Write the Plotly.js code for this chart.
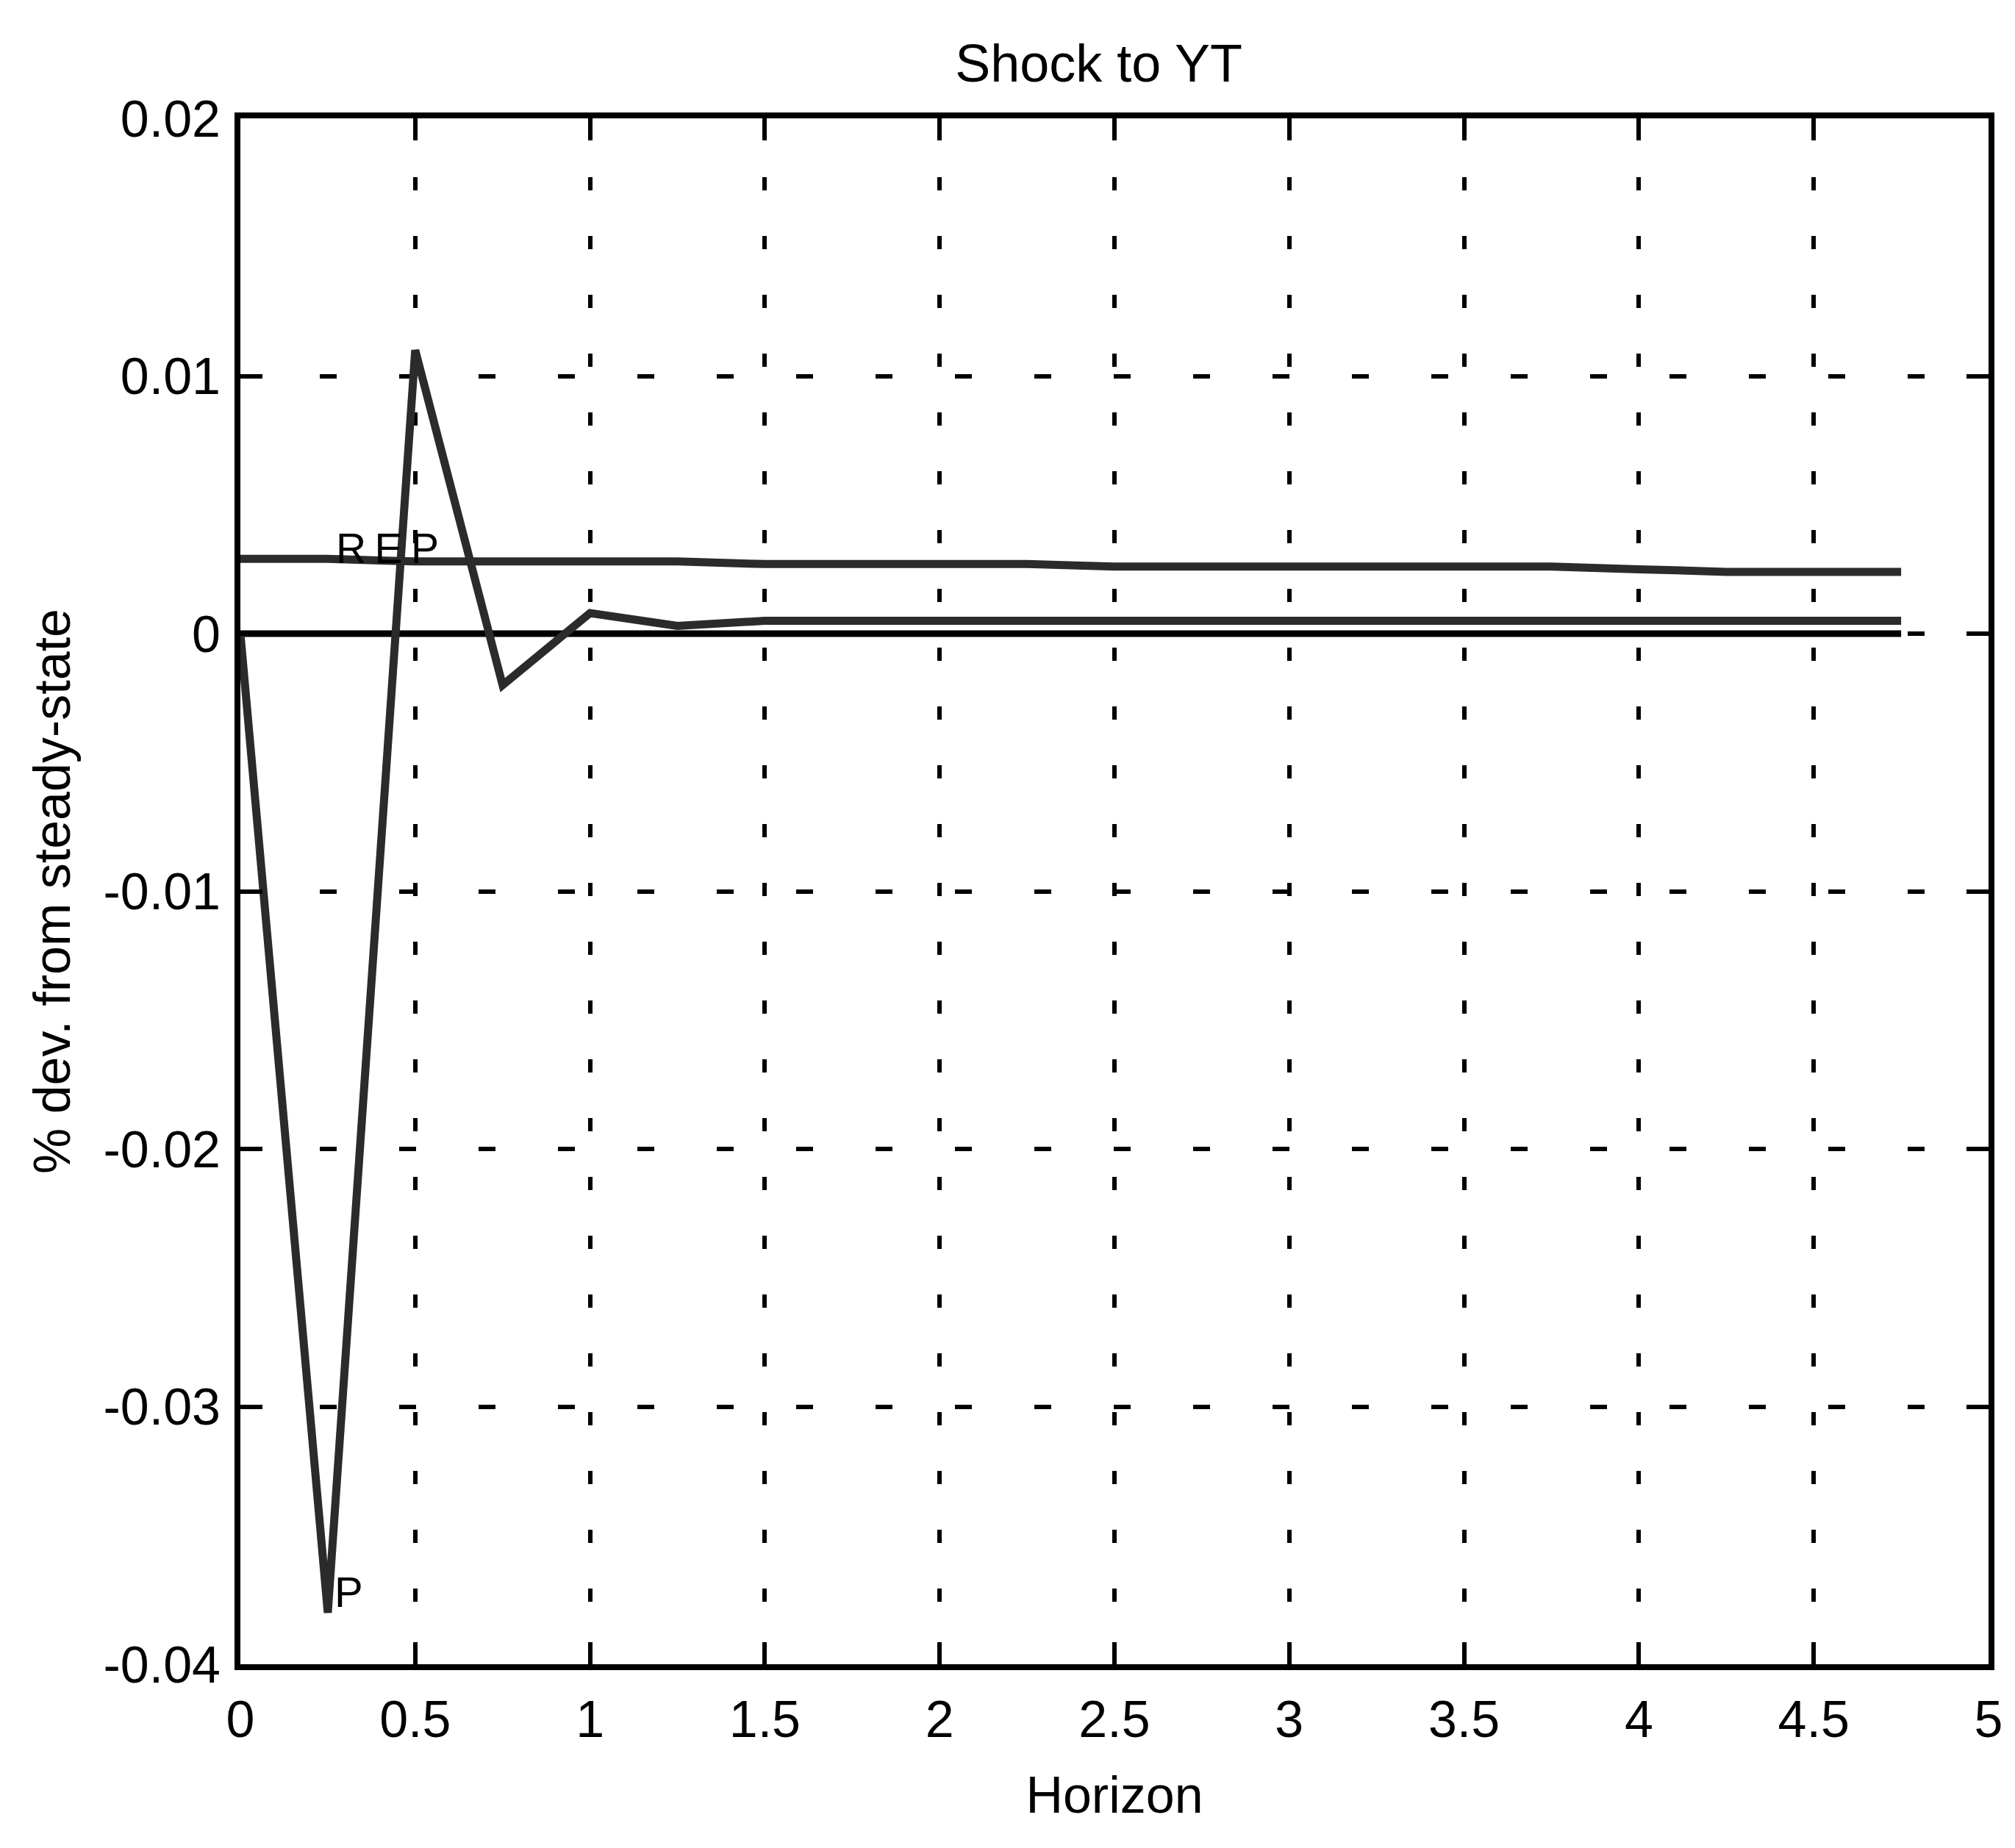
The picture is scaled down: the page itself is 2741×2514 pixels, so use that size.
<!DOCTYPE html>
<html>
<head>
<meta charset="utf-8">
<script src="https://cdn.plot.ly/plotly-3.0.1.min.js"></script>
<style>html,body{margin:0;padding:0;background:#fff;}#chart{width:2741px;height:2514px;}</style>
</head>
<body>
<div id="chart"></div>
<script>
// Horizon (years, quarterly steps)
const horizon = [0, 0.25, 0.5, 0.75, 1, 1.25, 1.5, 1.75, 2, 2.25, 2.5, 2.75, 3, 3.25, 3.5, 3.75, 4, 4.25, 4.5, 4.75];
// Series labelled "P" (oscillating response)
const seriesP = [0, -0.038, 0.011, -0.002, 0.0008, 0.0003, 0.0005, 0.0005, 0.0005, 0.0005, 0.0005, 0.0005, 0.0005, 0.0005, 0.0005, 0.0005, 0.0005, 0.0005, 0.0005, 0.0005];
// Series labelled "REP"
const seriesREP = [0.0029, 0.0029, 0.0028, 0.0028, 0.0028, 0.0028, 0.0027, 0.0027, 0.0027, 0.0027, 0.0026, 0.0026, 0.0026, 0.0026, 0.0026, 0.0026, 0.0025, 0.0024, 0.0024, 0.0024];
// Solid series near zero
const seriesBase = [0, 0, 0, 0, 0, 0, 0, 0, 0, 0, 0, 0, 0, 0, 0, 0, 0, 0, 0, 0];

const xTickVals = [0, 0.5, 1, 1.5, 2, 2.5, 3, 3.5, 4, 4.5, 5];
const xTickText = ["0", "0.5", "1", "1.5", "2", "2.5", "3", "3.5", "4", "4.5", "5"];
const yTickVals = [0.02, 0.01, 0, -0.01, -0.02, -0.03, -0.04];
const yTickText = ["0.02", "0.01", "0", "-0.01", "-0.02", "-0.03", "-0.04"];

const FONT = "Liberation Sans, Arial, Helvetica, sans-serif";

const traces = [
  {x: horizon, y: seriesBase, mode: "lines", line: {color: "#000", width: 9}, showlegend: false, hoverinfo: "skip"},
  {x: horizon, y: seriesREP, mode: "lines", line: {color: "#2b2b2b", width: 11}, showlegend: false, hoverinfo: "skip"},
  {x: horizon, y: seriesP, mode: "lines", line: {color: "#2b2b2b", width: 11}, showlegend: false, hoverinfo: "skip"}
];

const axisCommon = {
  showline: true, linecolor: "#000", linewidth: 8, mirror: "ticks",
  ticks: "inside", ticklen: 30, tickwidth: 6, tickcolor: "#000",
  showgrid: true, gridcolor: "#000", gridwidth: 6,
  zeroline: false, tickfont: {family: FONT, size: 70, color: "#000"}
};

const layout = {
  width: 2741, height: 2514,
  paper_bgcolor: "#fff", plot_bgcolor: "#fff",
  margin: {l: 327, r: 36, t: 161, b: 250},
  font: {family: FONT, color: "#000"},
  title: {text: "Shock to YT", font: {family: FONT, size: 72, color: "#000"}, x: 0.491, xref: "paper", xanchor: "center", y: 1 - 86 / 2514, yref: "container", yanchor: "middle"},
  xaxis: Object.assign({}, axisCommon, {
    range: [0, 5], tickmode: "array", tickvals: xTickVals, ticktext: xTickText,
    griddash: "18px,62px",
    ticklabelstandoff: 7,
    title: {text: "Horizon", font: {family: FONT, size: 70, color: "#000"}, standoff: 43}
  }),
  yaxis: Object.assign({}, axisCommon, {
    range: [-0.04, 0.02], tickmode: "array", tickvals: yTickVals, ticktext: yTickText,
    griddash: "23px,85px",
    ticklabelstandoff: 5,
    title: {text: "% dev. from steady-state", font: {family: FONT, size: 70, color: "#000"}, standoff: 25}
  }),
  annotations: [
    {x: 0.42, y: 0.0033, xref: "x", yref: "y", text: "R\u2009E\u2009P", showarrow: false, font: {family: FONT, size: 57, color: "#000"}},
    {x: 0.31, y: -0.0372, xref: "x", yref: "y", text: "P", showarrow: false, font: {family: FONT, size: 58, color: "#000"}}
  ]
};

Plotly.newPlot("chart", traces, layout, {staticPlot: true, displayModeBar: false});
</script>
</body>
</html>
